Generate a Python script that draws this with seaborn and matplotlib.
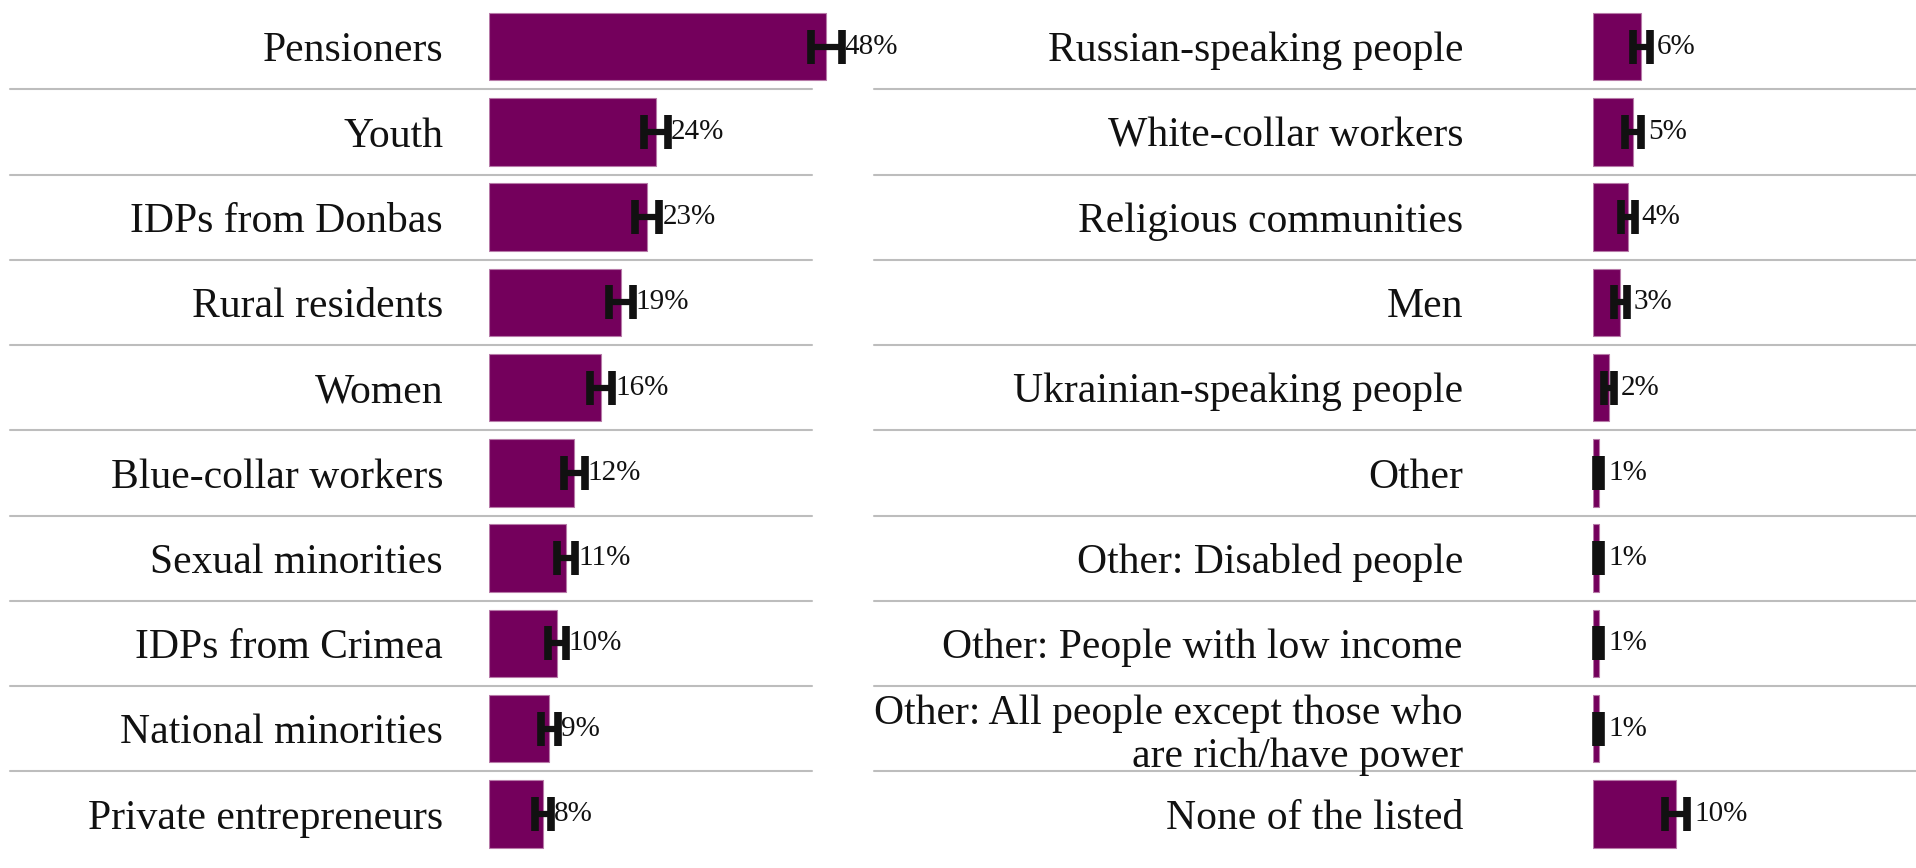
import matplotlib
matplotlib.use("Agg")
import matplotlib.pyplot as plt
import matplotlib.transforms as mtransforms
from matplotlib.lines import Line2D
import seaborn as sns
import pandas as pd

# ---- data ----
left_groups = ["Pensioners", "Youth", "IDPs from Donbas", "Rural residents", "Women",
               "Blue-collar workers", "Sexual minorities", "IDPs from Crimea",
               "National minorities", "Private entrepreneurs"]
left_values = [48.2, 23.8, 22.6, 18.8, 16.0, 12.2, 11.0, 9.7, 8.6, 7.7]
left_errors = [2.2, 1.7, 1.75, 1.7, 1.6, 1.45, 1.35, 1.25, 1.2, 1.1]

right_groups = ["Russian-speaking people", "White-collar workers", "Religious communities",
                "Men", "Ukrainian-speaking people", "Other", "Other: Disabled people",
                "Other: People with low income",
                "Other: All people except those who\nare rich/have power",
                "None of the listed"]
right_values = [6.0, 5.0, 4.3, 3.35, 2.0, 0.7, 0.7, 0.7, 0.7, 10.3]
right_errors = [1.08, 1.0, 0.87, 0.8, 0.62, 0.3, 0.3, 0.3, 0.3, 1.36]

BAR = "#74005c"
EDGE = "#b77aa8"
ERR = "#111111"
GRID = "#bdbdbd"

sns.set_theme(style="white")
plt.rcParams["font.family"] = ["Liberation Serif", "DejaVu Serif"]

W, H = 1916, 868
fig = plt.figure(figsize=(W / 100, H / 100), dpi=100)
top_px, bot_px = 4.0, 856.5
bottom = (H - bot_px) / H
height = (bot_px - top_px) / H

ax_l = fig.add_axes([489 / W, bottom, 364 / W, height])
ax_r = fig.add_axes([1593 / W, bottom, 323 / W, height])

panels = [
    (ax_l, left_groups, left_values, left_errors, 52, 33.1, 3),
    (ax_r, right_groups, right_values, right_errors, 40, 93.6, 7),
]

for ax, groups, vals, errs, xmax, pad, off in panels:
    df = pd.DataFrame({"group": groups, "value": vals})
    sns.barplot(data=df, x="value", y="group", orient="h", color=BAR,
                saturation=1, width=0.79, errorbar=None, ax=ax,
                edgecolor=EDGE, linewidth=0.8)
    ypos = list(range(len(groups)))
    eb = ax.errorbar(vals, ypos, xerr=errs, fmt="none", ecolor=ERR,
                     elinewidth=4.5, capsize=12.5, capthick=5.5, zorder=5)
    for art in eb.lines[1] + eb.lines[2]:
        art.set_clip_on(False)
    for v, e, y in zip(vals, errs, ypos):
        ax.annotate(f"{v:.0f}%", xy=(v + e, y), xytext=(off, 0),
                    textcoords="offset pixels", ha="left", va="center",
                    fontsize=21, color="#111111", annotation_clip=False)
    ax.set_xlim(0, xmax)
    ax.set_ylim(len(groups) - 0.5, -0.5)
    ax.set_xlabel("")
    ax.set_ylabel("")
    ax.set_xticks([])
    ax.tick_params(axis="y", length=0, pad=pad, labelsize=30, labelcolor="#111111")
    for lab in ax.get_yticklabels():
        lab.set_linespacing(1.15)
    for s in ax.spines.values():
        s.set_visible(False)
    ax.set_facecolor("none")

# row separators spanning each column
trans = mtransforms.blended_transform_factory(fig.transFigure, ax_l.transData)
for i in range(len(left_groups) - 1):
    yb = i + 0.5
    fig.add_artist(Line2D([10 / W, 812 / W], [yb, yb], transform=trans,
                          color=GRID, linewidth=1.5, zorder=0))
    fig.add_artist(Line2D([874 / W, 1.0], [yb, yb], transform=trans,
                          color=GRID, linewidth=1.5, zorder=0))

fig.savefig("out.png", dpi=100, facecolor="white")
